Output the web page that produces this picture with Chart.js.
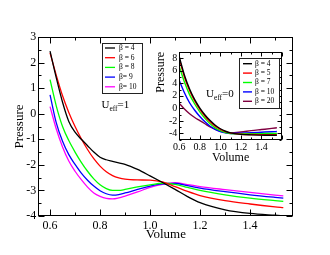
<!DOCTYPE html>
<html><head><meta charset="utf-8">
<script src="https://cdn.jsdelivr.net/npm/chart.js@4.4.1/dist/chart.umd.min.js"></script>
<style>
html,body{margin:0;padding:0;background:#fff;overflow:hidden}
#wrap{position:relative;width:330px;height:255px;background:#fff}
#main{position:absolute;left:0;top:0}
#inset{position:absolute;left:150px;top:44px}
</style></head>
<body><div id="wrap"><canvas id="main" width="330" height="255"></canvas><canvas id="inset" width="140" height="125"></canvas></div>
<script>
// ---------- main panel data (U_eff = 1) ----------
const mainVolume = [0.6,0.625,0.65,0.675,0.7,0.725,0.75,0.775,0.8,0.825,0.85,0.875,0.9,0.95,1.0,1.05,1.1,1.15,1.2,1.3,1.4,1.5,1.533];
const mainLabels = ['β = 4','β = 6','β = 8','β= 9','β= 10'];
const mainColors = ['#000000','#ff0000','#00ff00','#0000ff','#ff00ff'];
const mainBeta4  = [2.45,1.4,0.45,-0.3,-0.72,-1.0,-1.25,-1.5,-1.7,-1.8,-1.86,-1.92,-1.98,-2.18,-2.43,-2.69,-2.96,-3.24,-3.48,-3.76,-3.9,-3.97,-3.99];
const mainBeta6  = [2.38,1.5,0.7,0.05,-0.5,-0.98,-1.4,-1.76,-2.05,-2.27,-2.42,-2.51,-2.56,-2.59,-2.6,-2.67,-2.85,-3.04,-3.2,-3.4,-3.53,-3.64,-3.67];
const mainBeta8  = [1.33,0.3,-0.5,-1.05,-1.5,-1.9,-2.25,-2.55,-2.78,-2.93,-3.0,-3.0,-2.96,-2.86,-2.78,-2.72,-2.76,-2.88,-3.0,-3.17,-3.3,-3.4,-3.43];
const mainBeta9  = [0.74,-0.36,-1.08,-1.6,-1.98,-2.32,-2.6,-2.83,-3.01,-3.13,-3.18,-3.16,-3.1,-2.96,-2.83,-2.74,-2.73,-2.81,-2.91,-3.05,-3.17,-3.27,-3.3];
const mainBeta10 = [0.28,-0.6,-1.3,-1.85,-2.25,-2.58,-2.87,-3.1,-3.23,-3.31,-3.33,-3.29,-3.22,-3.06,-2.88,-2.76,-2.7,-2.77,-2.85,-2.97,-3.08,-3.18,-3.21];
const mainSeries = [mainBeta4, mainBeta6, mainBeta8, mainBeta9, mainBeta10];
const mainXTicks = [0.6, 0.8, 1, 1.2, 1.4];
const mainYTicks = [-4, -3, -2, -1, 0, 1, 2, 3];

// ---------- inset data (U_eff = 0) ----------
const insetVolume = [0.6,0.65,0.7,0.75,0.8,0.85,0.9,0.95,1.0,1.05,1.1,1.2,1.3,1.4,1.5,1.55];
const insetLabels = ['β = 4','β = 5','β = 7','β = 10','β = 20'];
const insetColors = ['#000000','#ff0000','#00ff00','#0000ff','#800040'];
const insetBeta4  = [8.2,5.3,3.1,1.4,0.05,-1.05,-1.95,-2.7,-3.25,-3.65,-3.92,-4.15,-4.23,-4.27,-4.3,-4.3];
const insetBeta5  = [7.9,5.0,2.85,1.2,-0.15,-1.25,-2.15,-2.85,-3.35,-3.72,-3.95,-4.12,-4.17,-4.2,-4.2,-4.2];
const insetBeta7  = [6.7,4.2,2.2,0.7,-0.55,-1.6,-2.45,-3.1,-3.55,-3.85,-4.0,-4.05,-4.05,-4.03,-4.0,-4.0];
const insetBeta10 = [4.45,2.5,0.9,-0.3,-1.3,-2.15,-2.85,-3.35,-3.7,-3.92,-4.0,-3.95,-3.88,-3.8,-3.72,-3.7];
const insetBeta20 = [0.8,-0.1,-0.85,-1.45,-1.95,-2.45,-2.95,-3.35,-3.65,-3.85,-3.92,-3.78,-3.56,-3.38,-3.2,-3.1];
const insetSeries = [insetBeta4, insetBeta5, insetBeta7, insetBeta10, insetBeta20];
const insetXTicks = [0.6, 0.8, 1, 1.2, 1.4];
const insetYTicks = [-4, -2, 0, 2, 4, 6, 8];

const SERIF = '"Liberation Serif", "Times New Roman", serif';

const deco = {
  id: 'deco',
  afterDraw(chart, args, o) {
    const ctx = chart.ctx, a = chart.chartArea;
    const xs = chart.scales.x, ys = chart.scales.y;
    ctx.save();
    ctx.strokeStyle = '#000'; ctx.lineWidth = 1;
    const L = Math.round(a.left)+0.5, R = Math.round(a.right)-0.5, T = Math.round(a.top)+0.5, B = Math.round(a.bottom)-0.5;
    ctx.strokeRect(L, T, R-L, B-T);
    const isMaj = (v, m) => Math.abs(v/m - Math.round(v/m)) < 1e-6;
    ctx.beginPath();
    for (let k = Math.ceil(xs.min/o.xMinor - 1e-9); k*o.xMinor <= xs.max + 1e-9; k++) {
      const v = k*o.xMinor, px = Math.round(xs.getPixelForValue(v))+0.5;
      const len = isMaj(v, o.xMajor) ? o.major : o.minor;
      ctx.moveTo(px, B); ctx.lineTo(px, B-len);
      ctx.moveTo(px, T); ctx.lineTo(px, T+len);
    }
    for (let k = Math.ceil(ys.min/o.yMinor - 1e-9); k*o.yMinor <= ys.max + 1e-9; k++) {
      const v = k*o.yMinor, py = Math.round(ys.getPixelForValue(v))+0.5;
      const len = isMaj(v, o.yMajor) ? o.major : o.minor;
      ctx.moveTo(L, py); ctx.lineTo(L+len, py);
      ctx.moveTo(R, py); ctx.lineTo(R-len, py);
    }
    ctx.stroke();
    // legend box
    const lg = o.legend;
    ctx.fillStyle = '#fff';
    ctx.fillRect(lg.x, lg.y, lg.w, lg.h);
    ctx.strokeStyle = '#222'; ctx.lineWidth = 1;
    ctx.strokeRect(Math.round(lg.x)+0.5, Math.round(lg.y)+0.5, lg.w, lg.h);
    ctx.font = lg.font; ctx.textBaseline = 'middle'; ctx.textAlign = 'left';
    chart.data.datasets.forEach((ds, i) => {
      const y = lg.row0 + i*lg.rowH;
      ctx.strokeStyle = ds.borderColor; ctx.lineWidth = lg.lw;
      ctx.beginPath(); ctx.moveTo(lg.l0, y); ctx.lineTo(lg.l1, y); ctx.stroke();
      ctx.fillStyle = '#000'; ctx.fillText(ds.label, lg.tx, y);
    });
    // note U_eff
    const n = o.note;
    ctx.fillStyle = '#000'; ctx.textBaseline = 'alphabetic';
    ctx.font = n.size + 'px ' + SERIF;
    ctx.fillText(n.text, n.x, n.y);
    let x = n.x + ctx.measureText(n.text).width;
    ctx.font = (n.size*0.68) + 'px ' + SERIF;
    ctx.fillText(n.sub, x, n.y + n.size*0.25);
    x += ctx.measureText(n.sub).width;
    ctx.font = n.size + 'px ' + SERIF;
    ctx.fillText(n.tail, x, n.y);
    ctx.restore();
  }
};

function makeDatasets(labels, colors, vols, series, lw) {
  return labels.map((lab, i) => ({
    label: lab,
    data: vols.map((v, j) => ({x: v, y: series[i][j]})),
    borderColor: colors[i], backgroundColor: colors[i],
    borderWidth: lw, pointRadius: 0, fill: false,
    cubicInterpolationMode: 'monotone'
  }));
}

function axis(min, max, tickVals, fontSize, pad, title, titleSize, fit) {
  return {
    type: 'linear', min, max,
    grid: {display: false, drawTicks: false},
    border: {display: false},
    afterBuildTicks: s => { s.ticks = tickVals.map(v => ({value: v})); },
    ticks: {autoSkip: false, maxRotation: 0,
            color: '#000', padding: pad, font: {family: SERIF, size: fontSize}},
    title: {display: true, text: title, color: '#000', padding: 0, font: {family: SERIF, size: titleSize}},
    afterFit: fit
  };
}

new Chart(document.getElementById('main'), {
  type: 'line',
  data: {datasets: makeDatasets(mainLabels, mainColors, mainVolume, mainSeries, 1.3)},
  options: {
    responsive: false, animation: false,
    layout: {padding: {left: 11.7, right: 36.7, top: 37, bottom: 12.7}},
    plugins: {
      legend: {display: false}, tooltip: {enabled: false},
      deco: {
        xMinor: 0.1, xMajor: 0.2, yMinor: 0.5, yMajor: 1, major: 6, minor: 3,
        legend: {x: 101.5, y: 42.5, w: 40, h: 50, row0: 48, rowH: 9.7, l0: 105, l1: 115, tx: 119, lw: 1.3,
                 font: '7.5px ' + SERIF},
        note: {x: 101.5, y: 108, text: 'U', sub: 'eff', tail: '=1', size: 11}
      }
    },
    scales: {
      x: axis(0.553, 1.573, mainXTicks, 12, 3, 'Volume', 13, s => { s.height = 26.3; }),
      y: axis(-4, 3, mainYTicks, 12, 2, 'Pressure', 13, s => { s.width = 26.6; })
    }
  },
  plugins: [deco]
});

const insetX = axis(0.6, 1.6, insetXTicks, 10, 2, 'Volume', 12, s => { s.height = 25.5; });
const insetY = axis(-5, 9, insetYTicks, 10, 2, 'Pressure', 12, s => { s.width = 25.5; });
insetY.title.align = 'end';

new Chart(document.getElementById('inset'), {
  type: 'line',
  data: {datasets: makeDatasets(insetLabels, insetColors, insetVolume, insetSeries, 1.4)},
  options: {
    responsive: false, animation: false,
    layout: {padding: {left: 3.8, right: 8, top: 7.3, bottom: 3.8}},
    plugins: {
      legend: {display: false}, tooltip: {enabled: false},
      deco: {
        xMinor: 0.1, xMajor: 0.2, yMinor: 1, yMajor: 2, major: 4, minor: 2,
        legend: {x: 89, y: 14.3, w: 40, h: 50, row0: 19.7, rowH: 9.4, l0: 93, l1: 102, tx: 105, lw: 1.4,
                 font: '7.5px ' + SERIF},
        note: {x: 56, y: 53, text: 'U', sub: 'eff', tail: '=0', size: 11}
      }
    },
    scales: {x: insetX, y: insetY}
  },
  plugins: [deco]
});
</script>
</body></html>
